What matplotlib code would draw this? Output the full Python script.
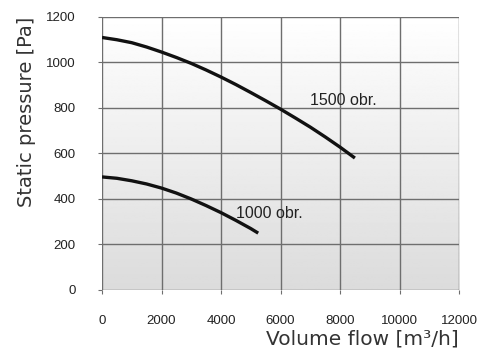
import matplotlib
matplotlib.use("Agg")
import matplotlib.pyplot as plt
import numpy as np

# fan curves
flow_1500 = [0, 500, 1000, 1500, 2000, 2500, 3000, 3500, 4000, 4500,
             5000, 5500, 6000, 6500, 7000, 7500, 8000, 8500]
press_1500 = [1110, 1100, 1087, 1068, 1046, 1022, 996, 967, 936, 903,
              868, 832, 795, 756, 716, 673, 628, 580]
flow_1000 = [0, 500, 1000, 1500, 2000, 2500, 3000, 3500, 4000, 4500,
             5000, 5250]
press_1000 = [497, 491, 480, 466, 448, 426, 400, 371, 340, 306,
              270, 250]

x_ticks = [0, 2000, 4000, 6000, 8000, 10000, 12000]
y_ticks = [0, 200, 400, 600, 800, 1000, 1200]

fig = plt.figure(figsize=(4.78, 3.54), dpi=100)
ax = fig.add_axes([0.2134, 0.1808, 0.7469, 0.7712])

# vertical gradient background, white at top to light grey at bottom
grad = np.linspace(0.86, 1.0, 256).reshape(-1, 1)
ax.imshow(grad, cmap="gray", vmin=0, vmax=1, aspect="auto", origin="lower",
          extent=[0, 12000, 0, 1200], zorder=0)

ax.plot(flow_1500, press_1500, color="#111111", lw=2.4, zorder=3,
        solid_capstyle="butt", solid_joinstyle="round")
ax.plot(flow_1000, press_1000, color="#111111", lw=2.4, zorder=3,
        solid_capstyle="butt", solid_joinstyle="round")

ax.text(7000, 835, "1500 obr.", fontsize=11.5, family="Liberation Sans",
        color="#222222", va="center", zorder=4)
ax.text(4500, 335, "1000 obr.", fontsize=11.5, family="Liberation Sans",
        color="#222222", va="center", zorder=4)

ax.set_xlim(0, 12000)
ax.set_ylim(0, 1200)
ax.set_xticks(x_ticks)
ax.set_yticks(y_ticks)
ax.grid(True, color="#6e6e6e", lw=1.0, zorder=1)
ax.set_axisbelow(False)
for s in ax.spines.values():
    s.set_visible(False)
ax.tick_params(length=3, color="#6e6e6e", labelsize=9.5, labelcolor="#222222")
ax.tick_params(axis="y", pad=16)
ax.tick_params(axis="x", pad=15)
for lbl in ax.get_xticklabels() + ax.get_yticklabels():
    lbl.set_family("Liberation Sans")

ax.set_xlabel("Volume flow [m³/h]", fontsize=14.5, color="#333333",
              loc="right", labelpad=2, family="DejaVu Sans")
ax.set_ylabel("Static pressure [Pa]", fontsize=14, color="#333333",
              loc="top", labelpad=7, family="DejaVu Sans")

fig.savefig("out.png", dpi=100)
